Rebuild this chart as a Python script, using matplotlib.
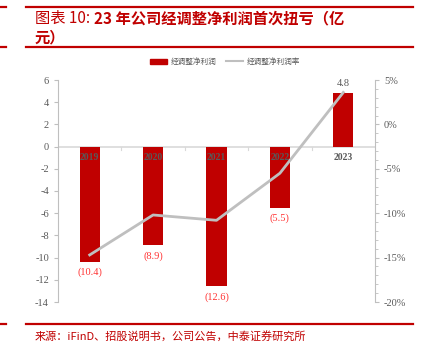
import matplotlib
matplotlib.use("Agg")
import matplotlib.pyplot as plt
from matplotlib.patches import Patch
from matplotlib.lines import Line2D

years = ["2019", "2020", "2021", "2022", "2023"]
adj_profit = [-10.4, -8.9, -12.6, -5.5, 4.8]
adj_margin = [-14.7, -10.2, -10.8, -5.5, 3.6]
bar_labels = ["(10.4)", "(8.9)", "(12.6)", "(5.5)", "4.8"]
left_ticks = [6, 4, 2, 0, -2, -4, -6, -8, -10, -12, -14]
right_ticks = [5, 0, -5, -10, -15, -20]

CJK = ["Noto Sans CJK SC", "DejaVu Sans"]
SERIF = "Liberation Serif"
RED = "#C00000"
TITLE_RED = "#C00000"
GRAY = "#BFBFBF"
TXT = "#595959"

W, H = 423, 349
fig = plt.figure(figsize=(W / 100, H / 100), dpi=100)
ax = fig.add_axes([58 / W, 1 - 302 / H, (375 - 58) / W, (302 - 80) / H])
ax2 = ax.twinx()

x = list(range(len(years)))
ax.bar(x, adj_profit, width=0.32, color=RED, zorder=2)
ax.set_xlim(-0.5, 4.5)
ax.set_ylim(-14, 6)
ax.set_yticks(left_ticks)
ax.set_yticklabels([str(t) for t in left_ticks], fontsize=7.5, color=TXT, family=SERIF)
ax.axhline(0, color="#D9D9D9", lw=1.2, zorder=1)
ax.set_xticks([])
for b in [0.5, 1.5, 2.5, 3.5]:
    ax.plot([b, b], [0, -0.3], color="#D9D9D9", lw=0.8, zorder=1)

for i, (v, lab, yr) in enumerate(zip(adj_profit, bar_labels, years)):
    ax.text(i, -0.55, yr, ha="center", va="top", fontsize=7, color=TXT,
            family=SERIF, fontweight="bold", zorder=5)
    if v < 0:
        ax.text(i, v - 0.5, lab, ha="center", va="top", fontsize=7.5,
                color="#FF3333", family=SERIF, zorder=5)
    else:
        ax.text(i, v + 0.5, lab, ha="center", va="bottom", fontsize=7.5,
                color=TXT, family=SERIF, zorder=5)

ax2.plot(x, adj_margin, color=GRAY, lw=2, zorder=3)
ax2.set_ylim(-20, 5)
ax2.set_yticks(right_ticks)
ax2.set_yticklabels([f"{t}%" for t in right_ticks], fontsize=7.5, color=TXT, family=SERIF)
ax2.set_yticks(range(-20, 6), minor=True)
ax.set_zorder(ax2.get_zorder() - 1) if False else None

for a in (ax, ax2):
    for s in ("top", "bottom"):
        a.spines[s].set_visible(False)
    a.spines["left"].set_color("#BFBFBF")
    a.spines["right"].set_color("#BFBFBF")
    a.tick_params(axis="y", colors="#BFBFBF", labelcolor=TXT, length=3, width=0.8)
    a.tick_params(axis="y", which="minor", colors="#BFBFBF", length=2, width=0.6)
    a.patch.set_visible(False)
ax.spines["right"].set_visible(False)
ax2.spines["left"].set_visible(False)

# legend
handles = [Patch(color=RED, label="经调整净利润"),
           Line2D([0], [0], color=GRAY, lw=1.5, label="经调整净利润率")]
fig.legend(handles=handles, loc="center", bbox_to_anchor=(225 / W, 1 - 62 / H),
           ncol=2, frameon=False, prop={"family": CJK, "size": 5.5},
           labelcolor=TXT, handlelength=2.2, handleheight=0.6, columnspacing=1.2,
           handletextpad=0.5)

# header / footer lines
for yy in (7, 47, 324):
    fig.add_artist(Line2D([26 / W, 413 / W], [1 - yy / H, 1 - yy / H],
                          color="#C00000", lw=1.6, transform=fig.transFigure))
    fig.add_artist(Line2D([0, 6 / W], [1 - yy / H, 1 - yy / H],
                          color="#C00000", lw=1.6, transform=fig.transFigure))

t1 = fig.text(35 / W, 1 - 18 / H, "图表 10: ", fontsize=11, color=TITLE_RED,
              family=CJK, va="center", ha="left")
fig.texts.append(None) if False else None
ann = fig.add_artist(matplotlib.text.Annotation(
    "23 年公司经调整净利润首次扭亏（亿", xy=(1, 0.5), xycoords=t1,
    va="center", ha="left", fontsize=11, color=TITLE_RED, family=CJK,
    fontweight="bold"))
fig.text(35 / W, 1 - 37 / H, "元）", fontsize=11, color=TITLE_RED,
         family=CJK, fontweight="bold", va="center", ha="left")

fig.text(35 / W, 1 - 336 / H, "来源：iFinD、招股说明书，公司公告，中泰证券研究所",
         fontsize=8, color=TITLE_RED, family=CJK, va="center", ha="left")

fig.savefig("out.png", dpi=100)
